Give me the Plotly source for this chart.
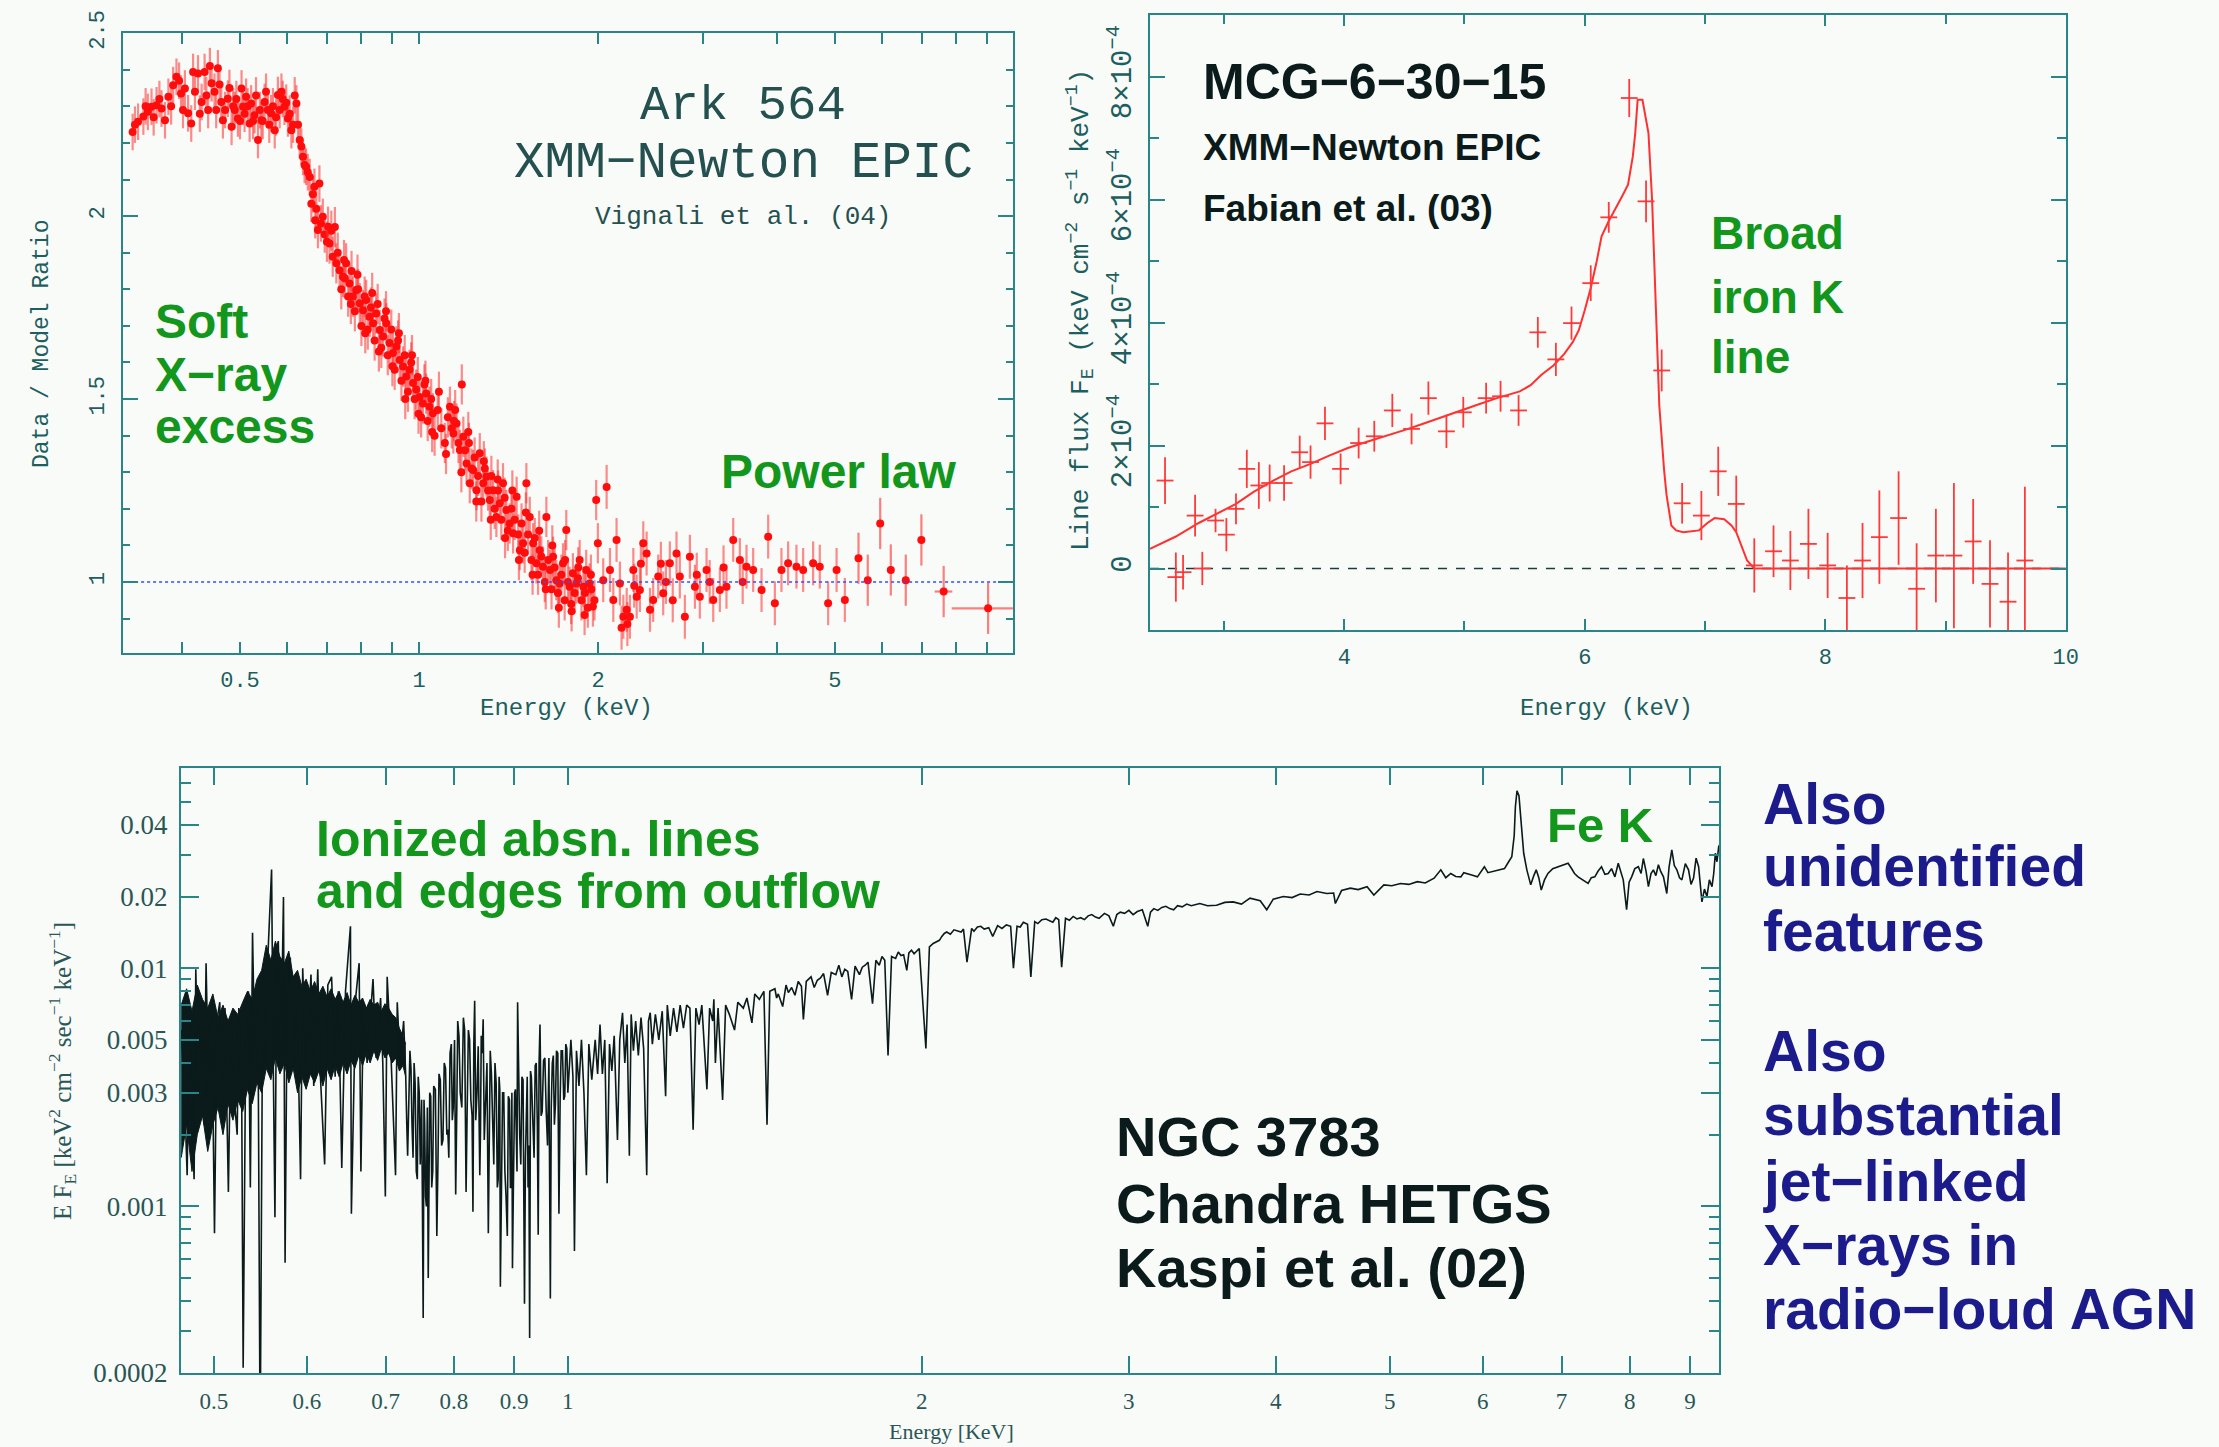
import plotly.graph_objects as go

W, H = 2219, 1447

# ---------------------------------------------------------------- Ark 564 (data / model ratio)
ark_soft_E = [0.330, 0.337, 0.344, 0.350, 0.355, 0.362, 0.369, 0.374, 0.379, 0.386,
              0.391, 0.398, 0.404, 0.409, 0.414, 0.417, 0.425, 0.431, 0.436, 0.442,
              0.448, 0.453, 0.459, 0.465, 0.468, 0.477, 0.484, 0.490, 0.496, 0.503,
              0.506, 0.512, 0.519, 0.522, 0.529, 0.536, 0.543, 0.550, 0.557, 0.564,
              0.572, 0.579, 0.587, 0.594, 0.602, 0.610, 0.622, 0.630, 0.638, 0.646,
              0.655, 0.659, 0.667, 0.669, 0.676, 0.680, 0.689,
              0.333, 0.347, 0.358, 0.366, 0.383, 0.395, 0.401, 0.420, 0.428, 0.439,
              0.445, 0.456, 0.462, 0.472, 0.480, 0.487, 0.493, 0.500, 0.509, 0.515,
              0.526, 0.532, 0.540, 0.546, 0.553, 0.560, 0.568, 0.575, 0.583, 0.590,
              0.598, 0.606, 0.614, 0.618, 0.626, 0.634, 0.642, 0.650, 0.663, 0.672,
              0.684, 0.694]
ark_soft_R = [2.230, 2.258, 2.272, 2.285, 2.299, 2.303, 2.294, 2.262, 2.326, 2.358,
              2.381, 2.335, 2.349, 2.281, 2.253, 2.394, 2.390, 2.312, 2.394, 2.290,
              2.363, 2.340, 2.404, 2.312, 2.262, 2.321, 2.244, 2.290, 2.267, 2.349,
              2.299, 2.326, 2.253, 2.308, 2.276, 2.208, 2.262, 2.312, 2.290, 2.281,
              2.235, 2.331, 2.340, 2.299, 2.267, 2.235, 2.308, 2.208, 2.162, 2.135,
              2.107, 2.034, 2.080, 1.989, 1.962, 2.089, 1.998,
              2.25, 2.30, 2.27, 2.32, 2.30, 2.37, 2.29, 2.34, 2.28, 2.33,
              2.41, 2.29, 2.36, 2.29, 2.35, 2.30, 2.32, 2.26, 2.28, 2.30,
              2.26, 2.33, 2.29, 2.26, 2.34, 2.25, 2.30, 2.27, 2.29, 2.32,
              2.31, 2.28, 2.25, 2.33, 2.25, 2.19, 2.14, 2.12, 2.06, 2.02,
              1.98, 1.95]
ark_soft_err = 0.05

ark_band_E = [0.703, 0.707, 0.716, 0.726, 0.735, 0.745, 0.754, 0.764, 0.774, 0.784,
              0.795, 0.805, 0.815, 0.826, 0.837, 0.847, 0.859, 0.870, 0.881, 0.892,
              0.904, 0.916, 0.928, 0.940, 0.952, 0.964, 0.977, 0.989, 1.002, 1.015,
              1.028, 1.041, 1.055,
              0.700, 0.712, 0.730, 0.740, 0.750, 0.760, 0.770, 0.780, 0.790, 0.800,
              0.810, 0.820, 0.830, 0.842, 0.852, 0.864, 0.875, 0.886, 0.898, 0.910,
              0.922, 0.934, 0.946, 0.958, 0.970, 0.983, 0.995, 1.008, 1.021, 1.034,
              1.048, 1.062, 1.075, 1.090, 1.105, 1.118, 1.180,
              1.127, 1.142, 1.156, 1.171, 1.187, 1.202, 1.217, 1.233, 1.249, 1.265,
              1.282, 1.298, 1.315, 1.332, 1.349, 1.367, 1.384, 1.402, 1.420, 1.439,
              1.459, 1.477, 1.496, 1.515, 1.535, 1.555, 1.575, 1.595, 1.616, 1.637,
              1.660, 1.680, 1.701, 1.723, 1.746, 1.768, 1.791, 1.814, 1.838, 1.862,
              1.889, 1.910, 1.935, 1.960, 1.985, 1.998,
              1.135, 1.150, 1.165, 1.195, 1.210, 1.225, 1.240, 1.257, 1.273, 1.290,
              1.306, 1.323, 1.340, 1.358, 1.375, 1.393, 1.410, 1.430, 1.448, 1.468,
              1.487, 1.505, 1.525, 1.545, 1.565, 1.585, 1.605, 1.627, 1.648, 1.670,
              1.690, 1.712, 1.735, 1.757, 1.780, 1.802, 1.826, 1.850, 1.875, 1.900,
              1.922, 1.948, 1.972,
              0.722, 0.748, 0.768, 0.788, 0.812, 0.834, 0.856, 0.880, 0.902, 0.925,
              0.948, 0.973, 0.998, 1.025, 1.052, 1.080, 1.110, 1.145, 1.178, 1.213,
              1.248, 1.285, 1.320, 1.356, 1.395, 1.435, 1.472, 1.512, 1.552, 1.592,
              1.633, 1.675, 1.718, 1.760, 1.805, 1.852, 1.898, 1.945]
ark_band_R = [1.971, 1.925, 1.889, 1.871, 1.852, 1.834, 1.871, 1.816, 1.780, 1.798,
              1.762, 1.743, 1.771, 1.725, 1.707, 1.734, 1.689, 1.671, 1.707, 1.653,
              1.626, 1.644, 1.607, 1.589, 1.562, 1.580, 1.544, 1.526, 1.506, 1.488,
              1.515, 1.479, 1.461,
              1.93, 1.96, 1.90, 1.80, 1.83, 1.78, 1.85, 1.74, 1.80, 1.70,
              1.78, 1.69, 1.75, 1.66, 1.76, 1.64, 1.72, 1.62, 1.69, 1.58,
              1.66, 1.55, 1.62, 1.52, 1.60, 1.50, 1.56, 1.45, 1.54, 1.44,
              1.50, 1.40, 1.47, 1.42, 1.38, 1.45, 1.54,
              1.479, 1.406, 1.433, 1.361, 1.397, 1.324, 1.270, 1.306, 1.251, 1.352,
              1.270, 1.288, 1.224, 1.251, 1.178, 1.215, 1.270, 1.197, 1.160, 1.133,
              1.233, 1.087, 1.106, 1.270, 1.178, 1.106, 1.051, 1.087, 1.042, 1.178,
              1.033, 1.069, 1.005, 0.996, 1.051, 1.142, 0.987, 1.024, 0.996, 1.060,
              0.987, 1.033, 0.996, 0.933, 1.224, 1.106,
              1.42, 1.47, 1.38, 1.36, 1.41, 1.31, 1.34, 1.29, 1.22, 1.31,
              1.25, 1.29, 1.20, 1.25, 1.17, 1.23, 1.14, 1.20, 1.17, 1.13,
              1.16, 1.08, 1.13, 1.06, 1.12, 1.02, 1.07, 1.00, 1.06, 0.98,
              1.04, 0.97, 1.02, 0.95, 1.00, 0.94, 0.97, 1.01, 0.95, 0.97,
              0.93, 0.98, 0.95,
              1.97, 1.88, 1.76, 1.84, 1.68, 1.79, 1.63, 1.74, 1.59, 1.68,
              1.50, 1.62, 1.46, 1.55, 1.41, 1.52, 1.35, 1.44, 1.30, 1.38,
              1.22, 1.33, 1.17, 1.28, 1.12, 1.25, 1.06, 1.19, 1.02, 1.14,
              0.98, 1.10, 0.93, 1.06, 0.92, 1.04, 0.91, 1.02]
ark_band_err = 0.055

ark_hard_E = [2.040, 2.067, 2.094, 2.121, 2.148, 2.176, 2.205, 2.234, 2.262, 2.292,
              2.322, 2.351, 2.382, 2.413, 2.445, 2.475, 2.524, 2.573, 2.640, 2.709,
              2.744, 2.798, 2.853, 2.909, 2.965, 3.043, 3.123, 3.204, 3.287, 3.374,
              3.462, 3.552, 3.645, 3.765, 3.863, 3.964, 4.067, 4.173, 4.310, 4.423,
              4.597, 4.717, 4.872, 5.034, 5.198,
              2.190, 2.240, 2.300, 2.360, 2.550, 2.600, 2.670, 2.930, 3.080, 3.250, 3.500]
ark_hard_R = [1.005, 1.260, 1.033, 0.951, 1.115, 0.996, 0.905, 0.924, 0.905, 1.033,
              0.960, 0.978, 1.106, 1.078, 0.924, 0.951, 1.015, 0.969, 1.051, 1.078,
              1.015, 0.905, 1.069, 0.987, 0.960, 1.033, 0.951, 0.978, 0.987, 1.115,
              1.060, 1.042, 1.033, 0.978, 1.124, 0.942, 1.033, 1.051, 1.042, 1.033,
              1.051, 1.042, 0.942, 1.033, 0.951,
              0.875, 0.885, 0.99, 1.05, 1.05, 1.00, 0.95, 1.02, 1.00, 1.04, 1.00]
ark_hard_err = 0.06

ark_tail_E = [5.48, 5.68, 5.96, 6.21, 6.58, 6.99, 7.62, 9.05]
ark_tail_R = [1.065, 1.005, 1.160, 1.033, 1.005, 1.115, 0.974, 0.928]
ark_tail_dE_plus = [0.05, 0.05, 0.06, 0.06, 0.08, 0.10, 0.26, 0.91]
ark_tail_dE_minus = [0.05, 0.05, 0.06, 0.06, 0.08, 0.10, 0.26, 1.19]
ark_tail_err = 0.07
ark_x_range = [0.318, 10.0]
ark_unity = 1.0
ark_x_tickvals = [0.5, 1, 2, 5]
ark_x_ticktext = ["0.5", "1", "2", "5"]
ark_x_minor = [0.4, 0.6, 0.7, 0.8, 0.9, 3, 4, 6, 7, 8, 9]

# ---------------------------------------------------------------- MCG-6-30-15 (line flux, units of 1e-4)
mcg_E = [2.51, 2.60, 2.66, 2.76, 2.82, 2.93, 3.02, 3.10, 3.19, 3.29,
         3.38, 3.50, 3.63, 3.72, 3.84, 3.97, 4.12, 4.25, 4.40, 4.56,
         4.70, 4.85, 4.99, 5.18, 5.30, 5.45, 5.61, 5.76, 5.89, 6.05,
         6.20, 6.37, 6.51, 6.64, 6.81, 6.97, 7.11, 7.26, 7.41, 7.57,
         7.71, 7.86, 8.02, 8.18, 8.31, 8.45, 8.61, 8.76, 8.92, 9.07,
         9.23, 9.37, 9.52, 9.66]
mcg_flux = [1.43, -0.14, -0.06, 0.86, 0.00, 0.78, 0.55, 0.97, 1.62, 1.35,
            1.39, 1.39, 1.89, 1.73, 2.36, 1.62, 2.04, 2.15, 2.57, 2.27,
            2.77, 2.23, 2.54, 2.77, 2.80, 2.57, 3.84, 3.40, 3.99, 4.64,
            5.71, 7.65, 5.97, 3.22, 1.06, 0.86, 1.58, 1.05, 0.05, 0.28,
            0.13, 0.40, 0.05, -0.48, 0.13, 0.51, 0.82, -0.33, 0.21, 0.21,
            0.44, -0.25, -0.54, 0.13]
mcg_err = [0.38, 0.40, 0.28, 0.34, 0.27, 0.19, 0.27, 0.25, 0.31, 0.38,
           0.30, 0.29, 0.27, 0.27, 0.27, 0.25, 0.25, 0.25, 0.27, 0.25,
           0.27, 0.27, 0.25, 0.25, 0.25, 0.25, 0.25, 0.27, 0.27, 0.29,
           0.25, 0.31, 0.34, 0.34, 0.33, 0.40, 0.40, 0.46, 0.44, 0.42,
           0.48, 0.57, 0.53, 0.53, 0.61, 0.76, 0.76, 0.74, 0.76, 1.18,
           0.69, 0.71, 0.80, 1.20]
mcg_dE = 0.07
mcg_model_E = [2.385, 2.60, 2.79, 3.00, 3.10, 3.25, 3.41, 3.56, 3.72, 3.88,
               4.03, 4.19, 4.34, 4.50, 4.65, 4.81, 4.96, 5.12, 5.27, 5.46,
               5.55, 5.64, 5.74, 5.83, 5.90, 5.95, 6.00, 6.05, 6.10, 6.14,
               6.20, 6.26, 6.31, 6.36, 6.40, 6.42, 6.44, 6.48, 6.50, 6.53,
               6.56, 6.58, 6.62, 6.66, 6.68, 6.72, 6.76, 6.82, 6.95, 7.02,
               7.08, 7.16, 7.22, 7.26, 7.31, 7.35, 7.41, 10.0]
mcg_model_flux = [0.32, 0.52, 0.74, 0.95, 1.05, 1.25, 1.43, 1.58, 1.70, 1.84,
                  1.96, 2.06, 2.15, 2.25, 2.35, 2.46, 2.57, 2.67, 2.77, 2.88,
                  2.98, 3.15, 3.30, 3.49, 3.68, 3.87, 4.20, 4.56, 5.00, 5.40,
                  5.65, 5.86, 6.05, 6.24, 6.70, 7.08, 7.62, 7.62, 7.40, 7.08,
                  6.00, 4.94, 2.65, 1.60, 1.20, 0.70, 0.62, 0.59, 0.62, 0.74,
                  0.82, 0.80, 0.70, 0.59, 0.35, 0.13, 0.00, 0.00]
mcg_x_range = [2.385, 10.0]
mcg_y_range = [-1.0, 9.0]
mcg_ytick_vals = [0, 2, 4, 6, 8]
mcg_ytick_text = ["0", "2×10<sup>−4</sup>", "4×10<sup>−4</sup>",
                  "6×10<sup>−4</sup>", "8×10<sup>−4</sup>"]

# ---------------------------------------------------------------- NGC 3783 (HETGS spectrum)
ngc_band_E = [0.469, 0.474, 0.479, 0.484, 0.489, 0.494, 0.499, 0.504, 0.509, 0.514,
              0.519, 0.524, 0.529, 0.534, 0.539, 0.544, 0.549, 0.554, 0.559, 0.564,
              0.569, 0.574, 0.579, 0.584, 0.589, 0.594, 0.599, 0.604, 0.609, 0.614,
              0.619, 0.624, 0.629, 0.634, 0.639, 0.644, 0.649, 0.654, 0.659, 0.664,
              0.669, 0.674, 0.679, 0.684, 0.689, 0.694, 0.699, 0.704, 0.709, 0.714,
              0.719, 0.724, 0.728]
ngc_band_hi = [0.0070, 0.0082, 0.0066, 0.0085, 0.0074, 0.0068, 0.0078, 0.0062, 0.0070, 0.0060,
               0.0068, 0.0064, 0.0072, 0.0080, 0.0074, 0.0090, 0.0098, 0.0125, 0.0108, 0.0130,
               0.0112, 0.0105, 0.0118, 0.0092, 0.0098, 0.0084, 0.0090, 0.0080, 0.0088, 0.0078,
               0.0084, 0.0076, 0.0082, 0.0074, 0.0080, 0.0072, 0.0079, 0.0070, 0.0077, 0.0072,
               0.0075, 0.0068, 0.0074, 0.0070, 0.0072, 0.0066, 0.0071, 0.0068, 0.0064, 0.0062,
               0.0056, 0.0052, 0.0048]
ngc_band_lo = [0.0016, 0.0022, 0.0014, 0.0020, 0.0024, 0.0017, 0.0022, 0.0026, 0.0020, 0.0027,
               0.0023, 0.0028, 0.0025, 0.0031, 0.0027, 0.0033, 0.0030, 0.0038, 0.0034, 0.0042,
               0.0036, 0.0040, 0.0033, 0.0038, 0.0030, 0.0035, 0.0031, 0.0036, 0.0033, 0.0037,
               0.0032, 0.0038, 0.0034, 0.0039, 0.0035, 0.0040, 0.0036, 0.0041, 0.0038, 0.0043,
               0.0039, 0.0044, 0.0040, 0.0045, 0.0041, 0.0046, 0.0042, 0.0044, 0.0040, 0.0042,
               0.0037, 0.0039, 0.0035]

ngc_soft_E = [0.4690, 0.4720, 0.4745, 0.4765, 0.4790, 0.4810, 0.4826, 0.4850, 0.4880, 0.4905,
              0.4924, 0.4950, 0.4980, 0.5006, 0.5030, 0.5058, 0.5080, 0.5110, 0.5144, 0.5170,
              0.5200, 0.5233, 0.5250, 0.5280, 0.5295, 0.5321, 0.5350, 0.5370, 0.5393, 0.5420,
              0.5450, 0.5474, 0.5503, 0.5530, 0.5560, 0.5598, 0.5615, 0.5635, 0.5655, 0.5672,
              0.5700, 0.5730, 0.5748, 0.5775, 0.5807, 0.5840, 0.5880, 0.5925, 0.5950, 0.5990,
              0.6047, 0.6080, 0.6128, 0.6160, 0.6211, 0.6250, 0.6296, 0.6340, 0.6380, 0.6423,
              0.6470, 0.6533, 0.6545, 0.6600, 0.6645, 0.6668, 0.6700, 0.6750, 0.6828, 0.6870,
              0.6930, 0.6960, 0.6995, 0.7020, 0.7070, 0.7136, 0.7160, 0.7200, 0.7250]
ngc_soft_F = [0.0055, 0.0030, 0.00135, 0.0068, 0.0025, 0.0013, 0.0099, 0.0030, 0.0070, 0.0022,
              0.0105, 0.0028, 0.0065, 0.00077, 0.0060, 0.0072, 0.0025, 0.0068, 0.00115, 0.0060,
              0.0030, 0.0020, 0.0068, 0.0028, 0.00021, 0.0045, 0.0080, 0.0012, 0.0141, 0.0035,
              0.0075, 0.0001, 0.0099, 0.0040, 0.0118, 0.0260, 0.0045, 0.0009, 0.0120, 0.0130,
              0.0040, 0.0199, 0.00058, 0.0110, 0.0110, 0.0038, 0.0090, 0.0013, 0.0100, 0.0035,
              0.0094, 0.0032, 0.0099, 0.0035, 0.0015, 0.0085, 0.0092, 0.0035, 0.0080, 0.00145,
              0.0080, 0.0150, 0.00093, 0.0075, 0.0105, 0.0014, 0.0070, 0.0040, 0.0090, 0.0042,
              0.0075, 0.0040, 0.0011, 0.0092, 0.0045, 0.00135, 0.0072, 0.0040, 0.0060]

ngc_edge_E = [0.7280, 0.7307, 0.7340, 0.7370, 0.7400, 0.7432, 0.7460, 0.7490, 0.7510, 0.7533,
              0.7555, 0.7580, 0.7608, 0.7630, 0.7660, 0.7690, 0.7737, 0.7770, 0.7810, 0.7850,
              0.7890, 0.7921, 0.7960, 0.7990, 0.8028, 0.8060, 0.8100, 0.8150, 0.8193, 0.8230,
              0.8270, 0.8304, 0.8332, 0.8370, 0.8416, 0.8440, 0.8472, 0.8510, 0.8558, 0.8590,
              0.8630, 0.8670, 0.8710, 0.8740, 0.8762, 0.8800, 0.8840, 0.8882, 0.8920, 0.8950,
              0.8972, 0.9010, 0.9040, 0.9063, 0.9100, 0.9140, 0.9186, 0.9220, 0.9250, 0.9279,
              0.9310, 0.9360, 0.9400, 0.9436, 0.9469, 0.9510, 0.9560, 0.9610, 0.9663, 0.9700,
              0.9740, 0.9780, 0.9827, 0.9870, 0.9920, 0.9960]
ngc_edge_F = [0.0035, 0.00163, 0.0045, 0.0022, 0.0040, 0.0014, 0.0035, 0.0015, 0.0028, 0.00034,
              0.0022, 0.0010, 0.0005, 0.0030, 0.0012, 0.0032, 0.00075, 0.0036, 0.0018, 0.0040,
              0.0020, 0.0016, 0.0048, 0.0026, 0.00112, 0.0060, 0.0030, 0.0062, 0.00115, 0.0055,
              0.0028, 0.00095, 0.0073, 0.0030, 0.00135, 0.0052, 0.0061, 0.0025, 0.00077, 0.0045,
              0.0020, 0.0040, 0.0012, 0.0035, 0.00046, 0.0030, 0.0014, 0.00075, 0.0028, 0.0012,
              0.00055, 0.0030, 0.0015, 0.0072, 0.0020, 0.0035, 0.00039, 0.0030, 0.0012, 0.00028,
              0.0035, 0.0016, 0.0040, 0.00076, 0.0058, 0.0025, 0.0042, 0.0018, 0.00041, 0.0040,
              0.0022, 0.0045, 0.00093, 0.0045, 0.0028, 0.0048]
ngc_edge2_E = [0.7295, 0.7355, 0.7385, 0.7415, 0.7447, 0.7475, 0.7520, 0.7545, 0.7568, 0.7595,
               0.7620, 0.7645, 0.7675, 0.7715, 0.7755, 0.7790, 0.7830, 0.7870, 0.7905, 0.7940,
               0.7975, 0.8010, 0.8045, 0.8080, 0.8125, 0.8170, 0.8210, 0.8250, 0.8290, 0.8318,
               0.8350, 0.8390, 0.8428, 0.8456, 0.8490, 0.8535, 0.8575, 0.8610, 0.8650, 0.8690,
               0.8725, 0.8752, 0.8780, 0.8820, 0.8860, 0.8900, 0.8936, 0.8962, 0.8990, 0.9025,
               0.9052, 0.9080, 0.9120, 0.9160, 0.9203, 0.9235, 0.9265, 0.9295, 0.9335, 0.9380,
               0.9420, 0.9452, 0.9490, 0.9535, 0.9585, 0.9636, 0.9680, 0.9720, 0.9760, 0.9805,
               0.9850, 0.9895, 0.9940, 0.9980]
ngc_edge2_F = [0.0022, 0.0038, 0.0016, 0.0033, 0.0013, 0.0030, 0.0012, 0.0028, 0.0011, 0.0026,
               0.0013, 0.0029, 0.0014, 0.0031, 0.0016, 0.0034, 0.0019, 0.0038, 0.0021, 0.0044,
               0.0023, 0.0050, 0.0025, 0.0052, 0.0026, 0.0055, 0.0025, 0.0050, 0.0024, 0.0048,
               0.0023, 0.0047, 0.0021, 0.0044, 0.0019, 0.0040, 0.0017, 0.0036, 0.0015, 0.0033,
               0.0013, 0.0031, 0.0012, 0.0030, 0.0011, 0.0029, 0.0012, 0.0030, 0.0013, 0.0031,
               0.0014, 0.0032, 0.0015, 0.0034, 0.0016, 0.0035, 0.0018, 0.0037, 0.0021, 0.0039,
               0.0022, 0.0040, 0.0024, 0.0041, 0.0025, 0.0042, 0.0026, 0.0043, 0.0027, 0.0044,
               0.0028, 0.0045, 0.0029, 0.0046]

ngc_mid_E = [1.0000, 1.0060, 1.0100, 1.0130, 1.0170, 1.0220, 1.0270, 1.0320, 1.0370, 1.0420,
             1.0480, 1.0550, 1.0600, 1.0650, 1.0700, 1.0750, 1.0800, 1.0850, 1.0900, 1.0950,
             1.1020, 1.1070, 1.1130, 1.1180, 1.1230, 1.1280, 1.1320, 1.1370, 1.1420, 1.1480,
             1.1540, 1.1600, 1.1670, 1.1710, 1.1750, 1.1800, 1.1870, 1.1950, 1.2030, 1.2110,
             1.2150, 1.2220, 1.2300, 1.2380, 1.2460, 1.2540, 1.2620, 1.2700, 1.2780, 1.2850,
             1.2930, 1.3000, 1.3060, 1.3130, 1.3200, 1.3280, 1.3310, 1.3350, 1.3420, 1.3540]
ngc_mid_F = [0.0030, 0.0050, 0.0035, 0.00065, 0.0045, 0.0032, 0.0050, 0.0030, 0.00135, 0.0048,
             0.0034, 0.0050, 0.0036, 0.0058, 0.0036, 0.0050, 0.00125, 0.0048, 0.0037, 0.0052,
             0.0019, 0.0050, 0.0065, 0.0040, 0.0058, 0.00163, 0.0064, 0.0045, 0.0060, 0.0043,
             0.0062, 0.0046, 0.00135, 0.0060, 0.0065, 0.0048, 0.0064, 0.0050, 0.0066, 0.0029,
             0.0070, 0.0052, 0.0068, 0.0054, 0.0070, 0.0056, 0.0070, 0.0068, 0.0021, 0.0068,
             0.0058, 0.0070, 0.0045, 0.0031, 0.0068, 0.0060, 0.0074, 0.0040, 0.0068, 0.0028]

ngc_cont_E = [1.3620, 1.3720, 1.3860, 1.3950, 1.4100, 1.4200, 1.4340, 1.4420, 1.4550, 1.4680,
              1.4770, 1.4850, 1.5000, 1.5050, 1.5100, 1.5230, 1.5330, 1.5400, 1.5500, 1.5600,
              1.5700, 1.5800, 1.5860, 1.5950, 1.6100, 1.6200, 1.6300, 1.6400, 1.6500, 1.6630,
              1.6750, 1.6900, 1.7000, 1.7100, 1.7200, 1.7300, 1.7430, 1.7550, 1.7700, 1.7800,
              1.7900, 1.8000, 1.8160, 1.8280, 1.8400, 1.8500, 1.8600, 1.8720, 1.8850, 1.9000,
              1.9100, 1.9200, 1.9300, 1.9420, 1.9500, 1.9600, 1.9700, 1.9900, 2.0160, 2.0300,
              2.0450, 2.0600, 2.0700, 2.0800, 2.0900, 2.1000, 2.1150, 2.1300, 2.1450, 2.1600,
              2.1700, 2.1850, 2.2050, 2.2150, 2.2300, 2.2450, 2.2600, 2.2800, 2.2980, 2.3200,
              2.3400, 2.3600, 2.3800, 2.3930, 2.4100, 2.4250, 2.4400, 2.4600, 2.4760, 2.4950,
              2.5100, 2.5300, 2.5500, 2.5700, 2.5850, 2.6000, 2.6150, 2.6300, 2.6500, 2.6700,
              2.6900, 2.7100, 2.7300, 2.7500, 2.7700, 2.7900, 2.8100, 2.8300, 2.8600, 2.8850,
              2.9100, 2.9300, 2.9500, 2.9750, 3.0000, 3.0250, 3.0500, 3.0800, 3.1130, 3.1300,
              3.1500, 3.1750, 3.2000, 3.2250, 3.2500, 3.2750, 3.3000, 3.3300, 3.3600, 3.3900,
              3.4200]
ngc_cont_F = [0.0070, 0.0064, 0.0055, 0.0072, 0.0068, 0.0075, 0.0059, 0.0078, 0.0074, 0.0080,
              0.0022, 0.0080, 0.0082, 0.0075, 0.0078, 0.0069, 0.0085, 0.0079, 0.0083, 0.0077,
              0.0088, 0.0084, 0.0061, 0.0088, 0.0092, 0.0083, 0.0089, 0.0091, 0.0095, 0.0077,
              0.0096, 0.0094, 0.0103, 0.0092, 0.0099, 0.0097, 0.0074, 0.0102, 0.0094, 0.0101,
              0.0103, 0.0106, 0.0071, 0.0108, 0.0103, 0.0112, 0.0108, 0.0043, 0.0112, 0.0110,
              0.0117, 0.0113, 0.0114, 0.0098, 0.0116, 0.0119, 0.0115, 0.0121, 0.0046, 0.0123,
              0.0127, 0.0130, 0.0131, 0.0136, 0.0140, 0.0142, 0.0139, 0.0145, 0.0144, 0.0142,
              0.0146, 0.0106, 0.0147, 0.0143, 0.0149, 0.0150, 0.0146, 0.0148, 0.0136, 0.0151,
              0.0147, 0.0152, 0.0150, 0.0100, 0.0150, 0.0149, 0.0156, 0.0153, 0.0092, 0.0157,
              0.0154, 0.0160, 0.0161, 0.0158, 0.0156, 0.0163, 0.0160, 0.0101, 0.0162, 0.0159,
              0.0165, 0.0161, 0.0163, 0.0160, 0.0166, 0.0168, 0.0164, 0.0162, 0.0170, 0.0166,
              0.0150, 0.0168, 0.0172, 0.0170, 0.0175, 0.0168, 0.0173, 0.0176, 0.0150, 0.0172,
              0.0178, 0.0175, 0.0180, 0.0182, 0.0178, 0.0176, 0.0183, 0.0181, 0.0186, 0.0183,
              0.0185]

ngc_hard_E = [3.447, 3.500, 3.562, 3.620, 3.680, 3.740, 3.803, 3.880, 3.930, 3.980,
              4.060, 4.130, 4.196, 4.270, 4.336, 4.420, 4.480, 4.495, 4.550, 4.629,
              4.700, 4.783, 4.847, 4.943, 5.020, 5.107, 5.190, 5.278, 5.360, 5.454,
              5.526, 5.580, 5.635, 5.690, 5.747, 5.780, 5.823, 5.880, 5.937, 5.980,
              6.018, 6.060, 6.097, 6.160, 6.218, 6.260, 6.300, 6.350, 6.380, 6.395,
              6.415, 6.440, 6.470, 6.500, 6.540, 6.590, 6.630, 6.661, 6.695, 6.727,
              6.770, 6.816, 6.880, 6.952, 7.020, 7.090, 7.136, 7.180, 7.230, 7.300,
              7.374, 7.420, 7.471, 7.520, 7.570, 7.620, 7.670, 7.720, 7.771, 7.822,
              7.860, 7.899, 7.951, 7.990, 8.030, 8.080, 8.136, 8.180, 8.216, 8.260,
              8.298, 8.340, 8.379, 8.420, 8.462, 8.500, 8.546, 8.602, 8.640, 8.687,
              8.730, 8.773, 8.820, 8.860, 8.920, 8.976, 9.020, 9.065, 9.110, 9.155,
              9.215, 9.260, 9.306, 9.350, 9.398, 9.430, 9.460, 9.490, 9.522, 9.540]
ngc_hard_F = [0.0187, 0.0183, 0.0184, 0.0189, 0.0190, 0.0186, 0.0197, 0.0192, 0.0176, 0.0195,
              0.0200, 0.0198, 0.0205, 0.0203, 0.0210, 0.0206, 0.0207, 0.0187, 0.0212, 0.0217,
              0.0214, 0.0220, 0.0203, 0.0224, 0.0222, 0.0227, 0.0225, 0.0231, 0.0228, 0.0239,
              0.0259, 0.0240, 0.0250, 0.0243, 0.0242, 0.0252, 0.0250, 0.0246, 0.0242, 0.0255,
              0.0267, 0.0252, 0.0254, 0.0257, 0.0259, 0.0262, 0.0276, 0.0294, 0.0360, 0.0477,
              0.0556, 0.0530, 0.0400, 0.0304, 0.0259, 0.0224, 0.0245, 0.0259, 0.0240, 0.0213,
              0.0235, 0.0250, 0.0262, 0.0267, 0.0272, 0.0276, 0.0263, 0.0250, 0.0242, 0.0235,
              0.0227, 0.0240, 0.0242, 0.0256, 0.0267, 0.0248, 0.0250, 0.0262, 0.0242, 0.0276,
              0.0255, 0.0235, 0.0176, 0.0230, 0.0242, 0.0262, 0.0267, 0.0250, 0.0289, 0.0255,
              0.0220, 0.0250, 0.0259, 0.0245, 0.0272, 0.0255, 0.0242, 0.0206, 0.0265, 0.0314,
              0.0270, 0.0259, 0.0240, 0.0235, 0.0275, 0.0259, 0.0225, 0.0239, 0.0290, 0.0267,
              0.0190, 0.0215, 0.0200, 0.0235, 0.0220, 0.0250, 0.0304, 0.0280, 0.0324, 0.0330]

ngc_x_tickvals = [0.5, 0.6, 0.7, 0.8, 0.9, 1, 2, 3, 4, 5, 6, 7, 8, 9]
ngc_x_ticktext = ["0.5", "0.6", "0.7", "0.8", "0.9", "1", "2", "3", "4", "5", "6", "7", "8", "9"]
ngc_y_tickvals = [0.0002, 0.001, 0.003, 0.005, 0.01, 0.02, 0.04]
ngc_y_ticktext = ["0.0002", "0.001", "0.003", "0.005", "0.01", "0.02", "0.04"]
ngc_y_minor = [0.0003, 0.0004, 0.0005, 0.0006, 0.0007, 0.0008, 0.0009, 0.002, 0.004,
               0.006, 0.007, 0.008, 0.009, 0.03, 0.05, 0.06]
ngc_x_log_range = [-0.329, 0.979]
ngc_y_log_range = [-3.7, -1.159]

# ---------------------------------------------------------------- styling
BG = "#f8fbf8"
TEAL = "#2a8686"
TXT = "#1d5e5e"
RED = "#ff0c0c"
GREEN = "#12961c"
NAVY = "#1b1b8c"
BLK = "#0b1a1a"
MONO = "Liberation Mono"
SANS = "Liberation Sans"
SERIF = "Liberation Serif"


def fx(p):
    return p / W


def fy(p):
    return 1 - p / H


fig = go.Figure()

# ---- Ark 564
for ex, ry, er in [(ark_soft_E, ark_soft_R, ark_soft_err),
                   (ark_band_E, ark_band_R, ark_band_err),
                   (ark_hard_E, ark_hard_R, ark_hard_err)]:
    fig.add_trace(go.Scatter(
        x=ex, y=ry, mode="markers", xaxis="x", yaxis="y",
        marker=dict(color=RED, size=8, line=dict(width=0)),
        error_y=dict(type="constant", value=er, color="rgba(255,45,45,0.55)",
                     thickness=2.2, width=0),
        hoverinfo="skip", showlegend=False))
fig.add_trace(go.Scatter(
    x=ark_tail_E, y=ark_tail_R, mode="markers", xaxis="x", yaxis="y",
    marker=dict(color=RED, size=8),
    error_y=dict(type="constant", value=ark_tail_err, color="rgba(255,45,45,0.6)",
                 thickness=2.2, width=0),
    error_x=dict(type="data", array=ark_tail_dE_plus, arrayminus=ark_tail_dE_minus,
                 color="rgba(255,45,45,0.6)", thickness=2.2, width=0),
    hoverinfo="skip", showlegend=False))
fig.add_trace(go.Scatter(
    x=ark_x_range, y=[ark_unity, ark_unity], mode="lines", xaxis="x", yaxis="y",
    line=dict(color="#3050ff", width=1.6, dash="dot"),
    hoverinfo="skip", showlegend=False))

# ---- MCG-6-30-15
fig.add_trace(go.Scatter(
    x=mcg_x_range, y=[0, 0], mode="lines", xaxis="x2", yaxis="y2",
    line=dict(color="#1c3c3c", width=1.6, dash="dash"),
    hoverinfo="skip", showlegend=False))
fig.add_trace(go.Scatter(
    x=mcg_model_E, y=mcg_model_flux, mode="lines", xaxis="x2", yaxis="y2",
    line=dict(color="#ff3030", width=2),
    hoverinfo="skip", showlegend=False))
fig.add_trace(go.Scatter(
    x=mcg_E, y=mcg_flux, mode="markers", xaxis="x2", yaxis="y2",
    marker=dict(color="#ff3030", size=2),
    error_y=dict(type="data", array=mcg_err, color="#ff3a3a", thickness=1.8, width=0),
    error_x=dict(type="constant", value=mcg_dE, color="#ff3a3a", thickness=1.8, width=0),
    hoverinfo="skip", showlegend=False))

# ---- NGC 3783
fig.add_trace(go.Scatter(
    x=ngc_band_E, y=ngc_band_lo, mode="lines", xaxis="x3", yaxis="y3",
    line=dict(color=BLK, width=1), hoverinfo="skip", showlegend=False))
fig.add_trace(go.Scatter(
    x=ngc_band_E, y=ngc_band_hi, mode="lines", xaxis="x3", yaxis="y3",
    line=dict(color=BLK, width=1), fill="tonexty", fillcolor=BLK,
    hoverinfo="skip", showlegend=False))
spec = sorted(zip(ngc_soft_E + ngc_edge_E + ngc_edge2_E + ngc_mid_E + ngc_cont_E + ngc_hard_E,
                  ngc_soft_F + ngc_edge_F + ngc_edge2_F + ngc_mid_F + ngc_cont_F + ngc_hard_F))
fig.add_trace(go.Scatter(
    x=[p[0] for p in spec], y=[p[1] for p in spec], mode="lines",
    xaxis="x3", yaxis="y3", line=dict(color=BLK, width=1.6),
    hoverinfo="skip", showlegend=False))

# ---------------------------------------------------------------- axes
frame = dict(showline=True, linecolor=TEAL, linewidth=2, mirror="allticks",
             ticks="inside", tickcolor=TEAL, tickwidth=2, showgrid=False,
             zeroline=False)
mono_tick = dict(family=MONO, size=22, color=TXT)
mono_tick_big = dict(family=MONO, size=29, color=TXT)
serif_tick = dict(family=SERIF, size=23, color="#2a5656")
serif_tick_y = dict(family=SERIF, size=27, color="#2a5656")

fig.update_layout(
    width=W, height=H, margin=dict(l=0, r=0, t=0, b=0, autoexpand=False),
    paper_bgcolor=BG, plot_bgcolor=BG, showlegend=False,
    xaxis=dict(frame, type="log", domain=[fx(123), fx(1013)], anchor="y",
               range=[-0.4977, 0.9985], tickmode="array", tickvals=ark_x_tickvals,
               ticktext=ark_x_ticktext, ticklen=11, tickfont=mono_tick,
               ticklabelstandoff=6,
               minor=dict(tickmode="array", tickvals=ark_x_minor, ticklen=11,
                          ticks="inside", tickcolor=TEAL, tickwidth=2)),
    yaxis=dict(frame, domain=[fy(653), fy(33)], anchor="x", range=[0.806, 2.5005],
               tick0=1.0, dtick=0.5, ticklen=15, tickangle=-90, tickfont=mono_tick,
               ticklabelstandoff=8,
               minor=dict(dtick=0.1, ticklen=7, ticks="inside", tickcolor=TEAL,
                          tickwidth=2)),
    xaxis2=dict(frame, domain=[fx(1150), fx(2066)], anchor="y2", range=[2.385, 10.002],
                tick0=0, dtick=2, ticklen=11, tickfont=mono_tick, ticklabelstandoff=6,
                minor=dict(dtick=1, ticklen=9, ticks="inside", tickcolor=TEAL,
                           tickwidth=2)),
    yaxis2=dict(frame, domain=[fy(630), fy(15)], anchor="x2", range=mcg_y_range,
                tickmode="array", tickvals=mcg_ytick_vals, ticktext=mcg_ytick_text,
                ticklen=15, tickangle=-90, tickfont=mono_tick_big, ticklabelstandoff=5,
                minor=dict(dtick=1, ticklen=9, ticks="inside", tickcolor=TEAL,
                           tickwidth=2)),
    xaxis3=dict(frame, type="log", domain=[fx(181), fx(1719)], anchor="y3",
                range=ngc_x_log_range, tickmode="array", tickvals=ngc_x_tickvals,
                ticktext=ngc_x_ticktext, ticklen=17, tickfont=serif_tick,
                ticklabelstandoff=6),
    yaxis3=dict(frame, type="log", domain=[fy(1373), fy(768)], anchor="x3",
                range=ngc_y_log_range, tickmode="array", tickvals=ngc_y_tickvals,
                ticktext=ngc_y_ticktext, ticklen=18, tickfont=serif_tick_y,
                ticklabelstandoff=6,
                minor=dict(tickmode="array", tickvals=ngc_y_minor, ticklen=10,
                           ticks="inside", tickcolor=TEAL, tickwidth=2)),
)


def ann(text, x, y, size, color, family, xanchor="left", angle=0):
    return dict(text=text, x=fx(x), y=fy(y), xref="paper", yref="paper",
                xanchor=xanchor, yanchor="middle", showarrow=False, textangle=angle,
                font=dict(size=size, color=color, family=family))


annotations = [
    # Ark 564
    ann("Ark 564", 743, 106, 49, "#24504f", MONO, "center"),
    ann("XMM−Newton EPIC", 743, 163, 51, "#24504f", MONO, "center"),
    ann("Vignali et al. (04)", 743, 217, 26, "#24504f", MONO, "center"),
    ann("<b>Soft</b>", 153, 321, 48, GREEN, SANS),
    ann("<b>X−ray</b>", 153, 375, 48, GREEN, SANS),
    ann("<b>excess</b>", 153, 427, 48, GREEN, SANS),
    ann("<b>Power law</b>", 838, 471, 48, GREEN, SANS, "center"),
    ann("Energy (keV)", 566, 708, 24, TXT, MONO, "center"),
    ann("Data / Model Ratio", 42, 344, 23, TXT, MONO, "center", -90),
    # MCG-6-30-15
    ann("<b>MCG−6−30−15</b>", 1201, 82, 50, BLK, SANS),
    ann("<b>XMM−Newton EPIC</b>", 1201, 147, 37, BLK, SANS),
    ann("<b>Fabian et al. (03)</b>", 1201, 208, 37, BLK, SANS),
    ann("<b>Broad</b>", 1709, 233, 46, GREEN, SANS),
    ann("<b>iron K</b>", 1709, 297, 46, GREEN, SANS),
    ann("<b>line</b>", 1709, 357, 46, GREEN, SANS),
    ann("Energy (keV)", 1606, 708, 24, TXT, MONO, "center"),
    ann("Line flux F<sub>E</sub> (keV cm<sup>−2</sup> s<sup>−1</sup> keV<sup>−1</sup>)",
        1080, 310, 26, TXT, MONO, "center", -90),
    # NGC 3783
    ann("<b>Ionized absn. lines</b>", 314, 839, 50, GREEN, SANS),
    ann("<b>and edges from outflow</b>", 314, 891, 50, GREEN, SANS),
    ann("<b>Fe K</b>", 1545, 825, 49, GREEN, SANS),
    ann("<b>NGC 3783</b>", 1114, 1136, 56, BLK, SANS),
    ann("<b>Chandra HETGS</b>", 1114, 1203, 56, BLK, SANS),
    ann("<b>Kaspi et al. (02)</b>", 1114, 1267, 56, BLK, SANS),
    ann("Energy [KeV]", 951, 1431, 22, "#2a5656", SERIF, "center"),
    ann("E F<sub>E</sub> [keV<sup>2</sup> cm<sup>−2</sup> sec<sup>−1</sup> keV<sup>−1</sup>]",
        62, 1071, 25, "#2a5656", SERIF, "center", -90),
    # right-hand notes
    ann("<b>Also</b>", 1761, 804, 57, NAVY, SANS),
    ann("<b>unidentified</b>", 1761, 866, 57, NAVY, SANS),
    ann("<b>features</b>", 1761, 931, 57, NAVY, SANS),
    ann("<b>Also</b>", 1761, 1051, 57, NAVY, SANS),
    ann("<b>substantial</b>", 1761, 1115, 57, NAVY, SANS),
    ann("<b>jet−linked</b>", 1761, 1181, 57, NAVY, SANS),
    ann("<b>X−rays in</b>", 1761, 1245, 57, NAVY, SANS),
    ann("<b>radio−loud AGN</b>", 1761, 1309, 57, NAVY, SANS),
]
fig.update_layout(annotations=annotations)

pin_js = ("document.documentElement.style.margin='0';"
          "document.documentElement.style.overflow='hidden';"
          "document.body.style.margin='0';document.body.style.overflow='hidden';"
          "var gd=document.getElementsByClassName('plotly-graph-div')[0];"
          "gd.style.position='fixed';gd.style.left='0px';gd.style.top='0px';")
fig.write_html("out.html", config={"displayModeBar": False}, post_script=pin_js)
